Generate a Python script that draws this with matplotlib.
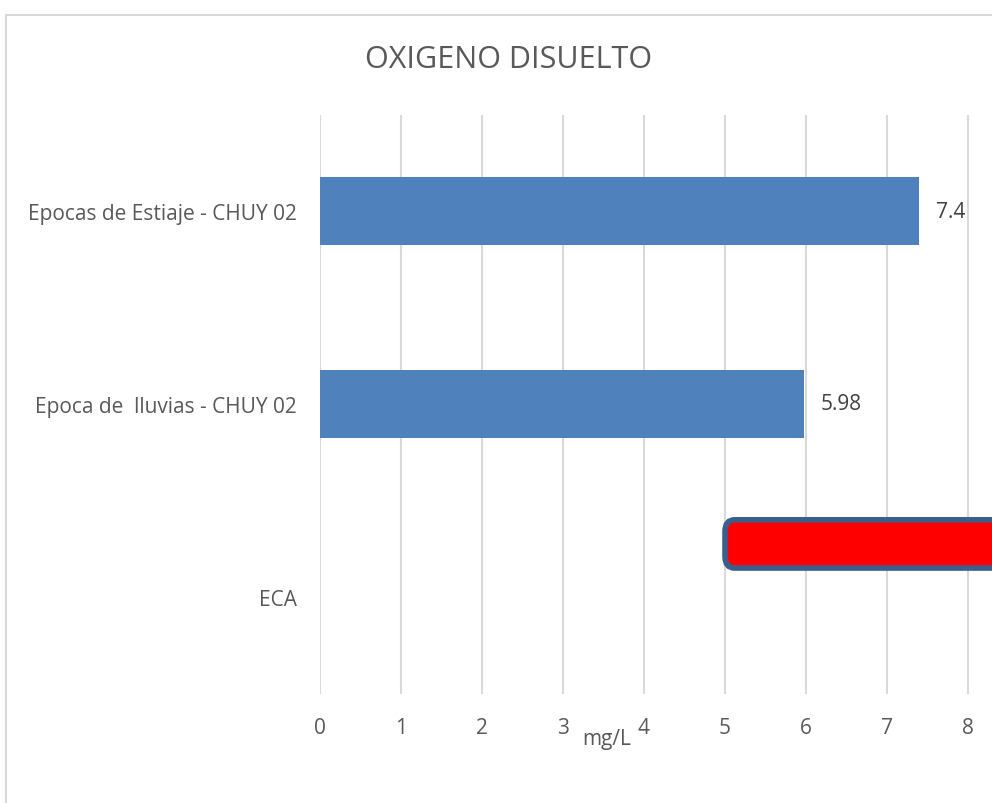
import matplotlib
matplotlib.use("Agg")
import matplotlib.pyplot as plt
from matplotlib.patches import FancyBboxPatch, Rectangle

categories = ["Epocas de Estiaje - CHUY 02", "Epoca de  lluvias - CHUY 02", "ECA"]
values = [7.4, 5.98]
value_labels = ["7.4", "5.98"]
eca_min = 5
x_ticks = [0, 1, 2, 3, 4, 5, 6, 7, 8]

plt.rcParams['font.family'] = ['Open Sans', 'DejaVu Sans']
TXT = "#595959"
BLUE = "#4F81BD"

W, H = 992, 804
fig = plt.figure(figsize=(W / 100, H / 100), dpi=100)

# chart frame
fig.patches.append(Rectangle((5.5 / W, -0.1), 2, 1 - 16 / H + 0.1,
                             transform=fig.transFigure, fill=False,
                             edgecolor="#D9D9D9", linewidth=1.5, zorder=0))

ax_left, ax_right = 320 / W, 1.0
ax_top, ax_bot = 1 - 115.5 / H, 1 - 694.5 / H
ax = fig.add_axes([ax_left, ax_bot, ax_right - ax_left, ax_top - ax_bot])
ax.set_facecolor("none")

xmax = (W - 320) / 81.0
ax.set_xlim(0, xmax)
ax.set_ylim(2.5, -0.5)

ypos = list(range(len(categories)))
ax.barh(ypos[:len(values)], values, height=0.35, color=BLUE, zorder=3)

for y, v, lab in zip(ypos, values, value_labels):
    ax.annotate(lab, (v, y), xytext=(12, 0), textcoords="offset points",
                va="center", ha="left", fontsize=15, color="#404040")

# ECA rounded box (>= eca_min)
eca_y = ypos[2] - 0.275
box = FancyBboxPatch((eca_min, eca_y - 0.125), 6, 0.25,
                     boxstyle="round,pad=0,rounding_size=0.12",
                     mutation_aspect=0.5,
                     facecolor="#FF0000", edgecolor="#3A5F8B", linewidth=4,
                     zorder=4, clip_on=True)
ax.add_patch(box)

ax.set_xticks(x_ticks)
ax.set_xticklabels([str(t) for t in x_ticks])
ax.set_yticks(ypos)
ax.set_yticklabels(categories)
ax.tick_params(axis="both", length=0, colors=TXT, labelsize=15)
ax.tick_params(axis="x", pad=17)
ax.tick_params(axis="y", pad=16.5)
for s in ax.spines.values():
    s.set_visible(False)
ax.xaxis.grid(True, color="#D9D9D9", linewidth=1.5, zorder=0)
ax.set_axisbelow(True)

fig.text(607 / W, 1 - 745 / H, "mg/L", ha="center", va="baseline",
         fontsize=15, color=TXT)
fig.text(509 / W, 1 - 68 / H, "OXIGENO DISUELTO", ha="center", va="baseline",
         fontsize=22, color=TXT)

fig.savefig("out.png", dpi=100)
